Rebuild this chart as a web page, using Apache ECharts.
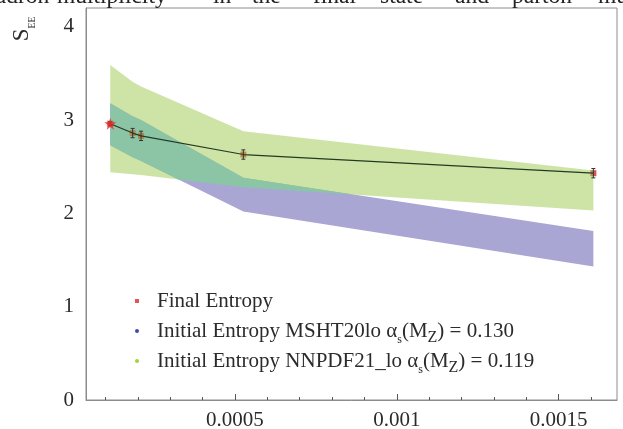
<!DOCTYPE html>
<html>
<head>
<meta charset="utf-8">
<title>S_EE vs 1/Q2</title>
<script src="https://cdn.jsdelivr.net/npm/echarts@6/dist/echarts.min.js"></script>
<style>
  html, body { margin: 0; padding: 0; background: #fff; }
  #chart { width: 623px; height: 429px; }
</style>
</head>
<body>
<div id="chart"></div>
<script>
// values
const xValues = [0.000115, 0.000184, 0.00021, 0.000526, 0.001607]
const finalEntropy = [2.96, 2.86, 2.83, 2.63, 2.43]
const finalEntropyErr = [0.02, 0.05, 0.05, 0.05, 0.05]
const mshtUpper = [3.18, 3.04, 3.00, 2.38, 1.81]
const mshtLower = [2.73, 2.60, 2.56, 2.02, 1.43]
const nnpdfUpper = [3.59, 3.41, 3.36, 2.88, 2.46]
const nnpdfLower = [2.44, 2.42, 2.41, 2.28, 2.03]

const yTicks = [0, 1, 2, 3, 4]
const xMajorTicks = [0.0005, 0.001, 0.0015]
const xMinorTicks = [0.0001, 0.0002, 0.0003, 0.0004, 0.0005, 0.0006, 0.0007, 0.0008,
  0.0009, 0.001, 0.0011, 0.0012, 0.0013, 0.0014, 0.0015, 0.0016]

// cut-off caption line above the plot (word, left edge in px)
const captionWords = ['hadron', 'multiplicity', 'in', 'the', 'final', 'state', 'and', 'parton', 'multi']
const captionLeft = [-16, 57, 213, 252, 313, 380, 455, 512, 598]

const finalName = 'Final Entropy'
const mshtName = 'Initial Entropy MSHT20lo'
const nnpdfName = 'Initial Entropy NNPDF21_lo'

const serif = "'Liberation Serif', 'DejaVu Serif', serif"
const frameColor = '#8c8c8c'
const textColor = '#2b2b2b'

// band polygon in data space
const bandPoints = (upper, lower) => {
  const top = xValues.map((x, i) => [x, upper[i]])
  const bottom = xValues.map((x, i) => [x, lower[i]]).reverse()
  return top.concat(bottom)
}

const lerp = (a, b, t) => a + (b - a) * t

// region covered by both bands (split segments where edges cross)
const overlapPoints = () => {
  const edges = [nnpdfUpper, mshtUpper, nnpdfLower, mshtLower]
  const top = []
  const bottom = []
  for (let i = 0; i < xValues.length - 1; i++) {
    const ts = [0, 1]
    for (let a = 0; a < edges.length; a++) {
      for (let b = a + 1; b < edges.length; b++) {
        const d0 = edges[a][i] - edges[b][i]
        const d1 = edges[a][i + 1] - edges[b][i + 1]
        if (d0 * d1 < 0) ts.push(d0 / (d0 - d1))
      }
    }
    ts.sort((p, q) => p - q)
    ts.forEach(t => {
      if (i > 0 && t === 0) return
      const x = lerp(xValues[i], xValues[i + 1], t)
      const up = Math.min(lerp(nnpdfUpper[i], nnpdfUpper[i + 1], t), lerp(mshtUpper[i], mshtUpper[i + 1], t))
      const lo = Math.max(lerp(nnpdfLower[i], nnpdfLower[i + 1], t), lerp(mshtLower[i], mshtLower[i + 1], t))
      top.push([x, up])
      bottom.push([x, Math.min(up, lo)])
    })
  }
  return top.concat(bottom.reverse())
}

const polygonSeries = (name, points, fill, z) => ({
  name,
  type: 'custom',
  z,
  silent: true,
  data: [points[0]],
  encode: { x: 0, y: 1 },
  renderItem: (params, api) => ({
    type: 'polygon',
    shape: { points: points.map(p => api.coord(p)) },
    style: { fill }
  })
})

const chart = echarts.init(document.getElementById('chart'))

const option = {
  backgroundColor: '#fff',
  animation: false,
  grid: [
    { left: 86, right: 6, top: 8, bottom: 29, show: true, borderColor: frameColor, borderWidth: 1, outerBoundsMode: 'none' },
    { left: 86, right: 6, top: 8, bottom: 29, show: false, outerBoundsMode: 'none' }
  ],
  xAxis: [
    {
      type: 'value',
      gridIndex: 0,
      min: 0.00004,
      max: 0.00168,
      axisLine: { show: true, lineStyle: { color: frameColor, width: 1 } },
      axisTick: { show: true, inside: true, length: 6, customValues: xMajorTicks, lineStyle: { color: '#555' } },
      axisLabel: {
        customValues: xMajorTicks,
        formatter: v => String(v),
        fontFamily: serif,
        fontSize: 21,
        color: textColor,
        margin: 10
      },
      splitLine: { show: false }
    },
    {
      type: 'value',
      gridIndex: 1,
      min: 0.00004,
      max: 0.00168,
      axisLine: { show: false },
      axisTick: { show: true, inside: true, length: 3, customValues: xMinorTicks, lineStyle: { color: '#555' } },
      axisLabel: { show: false },
      splitLine: { show: false }
    }
  ],
  yAxis: [
    {
      type: 'value',
      gridIndex: 0,
      min: 0,
      max: 4.2,
      interval: 1,
      axisLine: { show: true, lineStyle: { color: frameColor, width: 1 } },
      axisTick: { show: false },
      axisLabel: {
        customValues: yTicks,
        fontFamily: serif,
        fontSize: 21,
        color: textColor,
        margin: 12
      },
      splitLine: { show: false }
    },
    { type: 'value', gridIndex: 1, min: 0, max: 1, show: false }
  ],
  legend: {
    orient: 'vertical',
    left: 130,
    top: 281,
    itemGap: 0,
    itemWidth: 30,
    itemHeight: 4,
    selectedMode: false,
    data: [
      { name: finalName, icon: 'path://M0,0L1,0L1,1L0,1Z', itemStyle: { color: '#e0282a' } },
      { name: mshtName, icon: 'circle', itemStyle: { color: '#3a4bb2' } },
      { name: nnpdfName, icon: 'circle', itemStyle: { color: '#a2d23e' } }
    ],
    formatter: name => {
      if (name === mshtName) return name + ' α{s|s}(M{z|Z}) = 0.130'
      if (name === nnpdfName) return name + ' α{s|s}(M{z|Z}) = 0.119'
      return name
    },
    textStyle: {
      fontFamily: serif,
      fontSize: 21,
      lineHeight: 30,
      color: textColor,
      rich: {
        s: { fontFamily: serif, fontSize: 12, lineHeight: 19, verticalAlign: 'bottom', color: textColor },
        z: { fontFamily: serif, fontSize: 16, lineHeight: 13, verticalAlign: 'bottom', color: textColor }
      }
    }
  },
  graphic: [
    {
      type: 'text',
      x: 22,
      y: 29,
      rotation: Math.PI / 2,
      silent: true,
      style: {
        text: 'S{e|EE}',
        fontFamily: serif,
        fontSize: 23,
        fill: textColor,
        align: 'center',
        verticalAlign: 'middle',
        lineHeight: 30,
        rich: {
          e: { fontFamily: serif, fontSize: 9.5, lineHeight: 9, verticalAlign: 'bottom', fill: textColor }
        }
      }
    }
  ].concat(captionWords.map((w, i) => ({
    type: 'text',
    x: captionLeft[i],
    y: 9,
    silent: true,
    style: {
      text: w,
      fontFamily: serif,
      fontSize: 23.5,
      fill: '#222',
      align: 'left',
      verticalAlign: 'bottom'
    }
  }))),
  series: [
    polygonSeries(mshtName, bandPoints(mshtUpper, mshtLower), 'rgb(169,166,211)', 1),
    polygonSeries('', overlapPoints(), 'rgb(125,191,255)', 1),
    {
      name: finalName,
      type: 'scatter',
      z: 2,
      symbol: 'rect',
      symbolSize: 6,
      itemStyle: { color: '#d0262a' },
      data: xValues.map((x, i) => [x, finalEntropy[i]])
    },
    polygonSeries(nnpdfName, bandPoints(nnpdfUpper, nnpdfLower), 'rgba(155,201,77,0.5)', 3),
    {
      type: 'line',
      z: 4,
      symbol: 'none',
      lineStyle: { color: '#243a24', width: 1.2 },
      data: xValues.map((x, i) => [x, finalEntropy[i]])
    },
    {
      type: 'custom',
      z: 4,
      silent: true,
      data: xValues.map((x, i) => [x, finalEntropy[i], finalEntropyErr[i]]),
      encode: { x: 0, y: 1 },
      renderItem: (params, api) => {
        const x = api.value(0)
        const y = api.value(1)
        const e = api.value(2)
        const hi = api.coord([x, y + e])
        const lo = api.coord([x, y - e])
        const style = { stroke: '#333', lineWidth: 1 }
        return {
          type: 'group',
          children: [
            { type: 'line', shape: { x1: hi[0], y1: hi[1], x2: lo[0], y2: lo[1] }, style },
            { type: 'line', shape: { x1: hi[0] - 2, y1: hi[1], x2: hi[0] + 2, y2: hi[1] }, style },
            { type: 'line', shape: { x1: lo[0] - 2, y1: lo[1], x2: lo[0] + 2, y2: lo[1] }, style }
          ]
        }
      }
    },
    {
      type: 'scatter',
      z: 5,
      symbol: 'path://M50,0L61,35L98,35L68,57L79,91L50,70L21,91L32,57L2,35L39,35Z',
      symbolSize: 12,
      itemStyle: { color: '#ea2a2a' },
      data: [[xValues[0], finalEntropy[0]]]
    }
  ]
}

chart.setOption(option)
</script>
</body>
</html>
